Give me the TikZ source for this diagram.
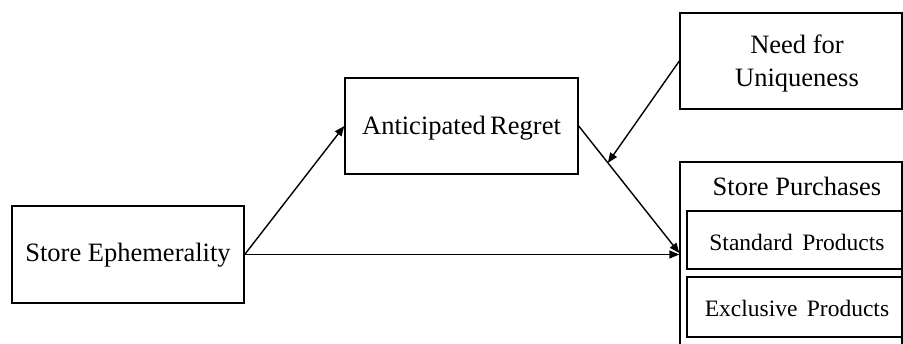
\documentclass[tikz,border=0pt]{standalone}
\usepackage{fontspec}
\setmainfont{Liberation Serif}
\usetikzlibrary{arrows.meta,calc}
\tikzset{
  box/.style={draw, line width=1.4pt, rectangle, inner sep=0pt},
  lbl/.style={inner sep=0pt, font=\fontsize{26.5}{33}\selectfont, align=center},
  small/.style={inner sep=0pt, font=\fontsize{23.5}{28}\selectfont},
  link/.style={line width=1.4pt, -{Triangle[length=10pt,width=8pt]}},
}
\begin{document}
\begin{tikzpicture}[x=1pt,y=-1pt]
\useasboundingbox (0,0) rectangle (903,343);
\begin{scope}
\clip (0,0) rectangle (903,343);
% boxes
\node[box, minimum width=232pt, minimum height=97pt] (se) at (128,254.5) {};
\node[box, minimum width=233pt, minimum height=96pt] (ar) at (461.5,126) {};
\node[box, minimum width=222pt, minimum height=96pt] (nfu) at (791,61) {};
\node[box, minimum width=222pt, minimum height=200pt] (sp) at (791,262) {};
% the two inner boxes run past the right border of the outer one
\node[box, minimum width=233pt, minimum height=58pt] (std) at (803.5,240) {};
\node[box, minimum width=233pt, minimum height=60pt] (exc) at (803.5,307) {};
% texts
\node[lbl] (setxt) at (128,255) {Store Ephemerality};
\node[lbl] (artxt) at (461.5,128) {Anticipated\hspace{-0.08em} Regret};
\node[lbl] (nfutxt) at (797,63) {Need for\\Uniqueness};
\node[lbl] (sptxt) at (797,186) {Store Purchases};
\node[small] (stdtxt) at (797,242) {Standard\hspace{0.15em} Products};
\node[small] (exctxt) at (797,308) {Exclusive\hspace{0.15em} Products};
% connectors
\coordinate (hit) at ($(sp.west)+(0,-9)$);
\draw[link] (se.east) -- (ar.west);
\draw[link] (se.east) -- (se.east -| sp.west);
\draw[link] (ar.east) -- (hit);
\draw[link] (nfu.west) -- ($(ar.east)!0.29!(hit)$);
\end{scope}
\end{tikzpicture}
\end{document}
